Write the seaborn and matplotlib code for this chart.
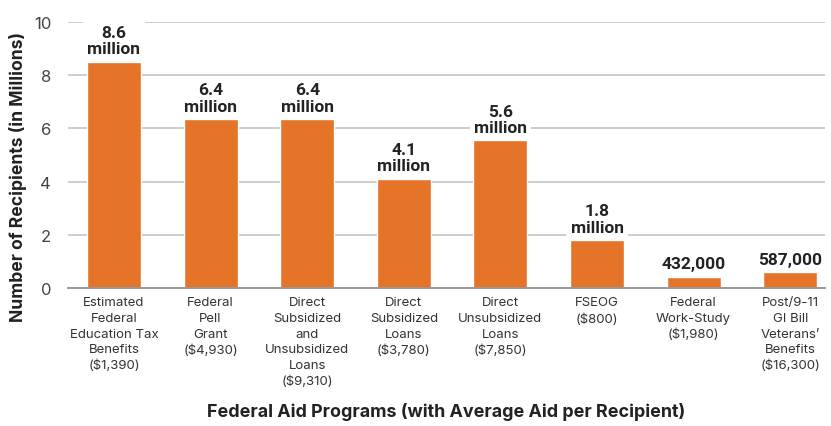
import matplotlib
matplotlib.use("Agg")
import matplotlib.pyplot as plt
import seaborn as sns
import pandas as pd

# ── Data ──────────────────────────────────────────────────────────────────────
programs = [
    "Estimated\nFederal\nEducation Tax\nBenefits\n($1,390)",
    "Federal\nPell\nGrant\n($4,930)",
    "Direct\nSubsidized\nand\nUnsubsidized\nLoans\n($9,310)",
    "Direct\nSubsidized\nLoans\n($3,780)",
    "Direct\nUnsubsidized\nLoans\n($7,850)",
    "FSEOG\n($800)",
    "Federal\nWork-Study\n($1,980)",
    "Post/9-11\nGI Bill\nVeterans’\nBenefits\n($16,300)",
]
recipients = [8.5, 6.35, 6.35, 4.1, 5.55, 1.8, 0.43, 0.59]
value_labels = ["8.6\nmillion", "6.4\nmillion", "6.4\nmillion", "4.1\nmillion",
                "5.6\nmillion", "1.8\nmillion", "432,000", "587,000"]
y_ticks = [0, 2, 4, 6, 8, 10]

BAR_COLOR = "#E57428"

# ── Plot ──────────────────────────────────────────────────────────────────────
sns.set_style("white")
plt.rcParams["font.family"] = ["Inter", "DejaVu Sans"]

df = pd.DataFrame({"program": programs, "recipients": recipients})

fig = plt.figure(figsize=(8.31, 4.27), dpi=100)
ax = fig.add_axes([68 / 831, 1 - 289 / 427, (825 - 68) / 831, (289 - 23) / 427])

sns.barplot(data=df, x="program", y="recipients", color=BAR_COLOR,
            width=0.56, saturation=1, ax=ax, zorder=2)

ax.set_ylim(0, 10)
ax.set_xlim(-0.476, 7.36)
ax.set_yticks(y_ticks)
ax.set_yticklabels([str(t) for t in y_ticks], fontsize=12, color="#444444")
ax.tick_params(axis="y", length=0, pad=12)
ax.tick_params(axis="x", length=0, pad=6)
plt.setp(ax.get_xticklabels(), fontsize=9.5, color="#333333", linespacing=1.4)

ax.grid(axis="y", color="#cccccc", linewidth=1.4, zorder=0)
ax.set_axisbelow(True)
for s in ["top", "right", "left"]:
    ax.spines[s].set_visible(False)
ax.spines["bottom"].set_color("#999999")
ax.spines["bottom"].set_linewidth(1.4)

for i, (v, lab) in enumerate(zip(recipients, value_labels)):
    ax.annotate(lab, (i, v), xytext=(0, 4), textcoords="offset points",
                ha="center", va="bottom", fontsize=12.5, fontweight="bold",
                family=["Roboto", "DejaVu Sans"], color="#222222",
                linespacing=1.1, zorder=3,
                bbox=dict(boxstyle="square,pad=0.25", fc="white", ec="none"))

ax.set_xlabel("Federal Aid Programs (with Average Aid per Recipient)",
              fontsize=12.9, fontweight="bold", color="#222222", va="center")
ax.xaxis.set_label_coords(0.5, -0.462)
ax.set_ylabel("Number of Recipients (in Millions)",
              fontsize=12.6, fontweight="bold", color="#222222", va="center")
ax.yaxis.set_label_coords(-50 / 757, 0.42)

fig.savefig("out.png", dpi=100)
